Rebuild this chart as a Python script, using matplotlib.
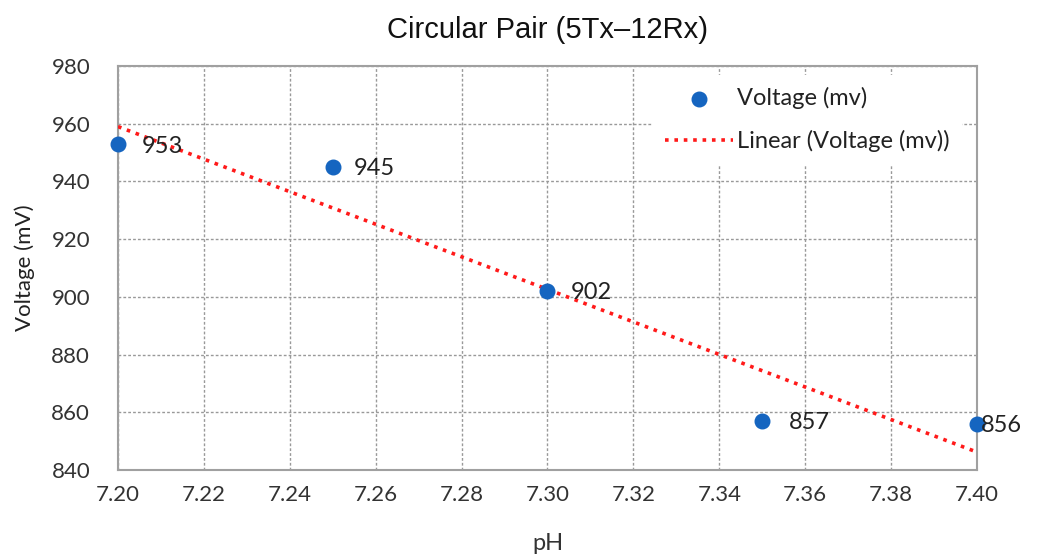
import matplotlib
matplotlib.use("Agg")
import matplotlib.pyplot as plt
import numpy as np

ph = [7.20, 7.25, 7.30, 7.35, 7.40]
voltage = [953, 945, 902, 857, 856]
labels = ["953", "945", "902", "857", "856"]
xticks = [7.20, 7.22, 7.24, 7.26, 7.28, 7.30, 7.32, 7.34, 7.36, 7.38, 7.40]
yticks = [840, 860, 880, 900, 920, 940, 960, 980]

fnt = ["Lato", "DejaVu Sans"]
fig = plt.figure(figsize=(10.38, 5.56), dpi=100)
ax = fig.add_axes([0.1137, 0.1547, 0.8275, 0.7266])

coef = np.polyfit(ph, voltage, 1)
xs = np.array([ph[0], ph[-1]])
sc = ax.scatter(ph, voltage, s=110, color="#1565c0", zorder=4, label="Voltage (mv)", clip_on=False)
ln, = ax.plot(xs, np.polyval(coef, xs), color="#ff1a1a", linestyle=(0, (1, 1.6)), linewidth=2.6,
              label="Linear (Voltage (mv))", zorder=3)

offsets = [(17, -2), (15, -1), (17, -1), (19, -1), (3, -1)]
for x, y, t, off in zip(ph, voltage, labels, offsets):
    ax.annotate(t, (x, y), xytext=off, textcoords="offset points", va="center", ha="left",
                fontsize=17, family=fnt, color="#222222", zorder=5, annotation_clip=False)

ax.set_xlim(7.20, 7.40)
ax.set_ylim(840, 980)
ax.set_xticks(xticks)
ax.set_yticks(yticks)
ax.set_xticklabels([f"{v:.2f}" for v in xticks], family=fnt, fontsize=16, color="#333333")
ax.set_yticklabels([str(v) for v in yticks], family=fnt, fontsize=16, color="#333333")
ax.tick_params(length=0, pad=11)
ax.tick_params(axis="y", pad=20)
ax.grid(True, color="#999999", linestyle=(0, (2, 1.5)), linewidth=1)
for s in ax.spines.values():
    s.set_color("#a0a0a0")
    s.set_linewidth(1.5)

ax.set_xlabel("pH", family=fnt, fontsize=17, color="#333333", labelpad=20)
ax.set_ylabel("Voltage (mV)", family=fnt, fontsize=16, color="#222222", labelpad=12)
ax.set_title("Circular Pair (5Tx\u201312Rx)", family=["Liberation Sans", "DejaVu Sans"],
             fontsize=21, color="#111111", pad=20)

leg = ax.legend(handles=[sc, ln], loc="upper right", frameon=True, fancybox=False,
                prop={"family": fnt, "size": 17},
                bbox_to_anchor=(0.99, 0.995), handlelength=2.9, labelspacing=0.9,
                borderpad=0.5, handletextpad=0.15, borderaxespad=0.3)
leg.get_frame().set_facecolor("white")
leg.get_frame().set_edgecolor("white")
leg.get_frame().set_alpha(1)
for t in leg.get_texts():
    t.set_color("#222222")

fig.savefig("out.png", dpi=100, facecolor="white")
